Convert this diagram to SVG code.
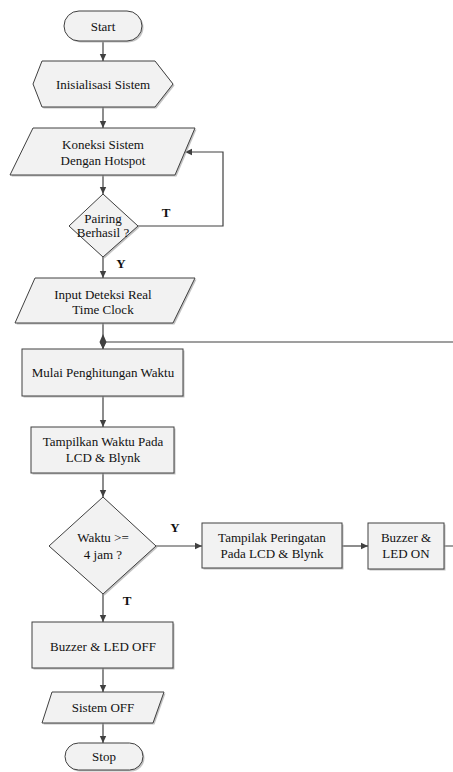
<svg xmlns="http://www.w3.org/2000/svg" width="453" height="772" viewBox="0 0 453 772">
<style>
.n{fill:#f2f2f2;stroke:#404040;stroke-width:1}
.sh{fill:#a8a8a8;stroke:none;opacity:0.7}
text{font-family:"Liberation Serif","DejaVu Serif",serif;font-size:13px;fill:#111;text-anchor:middle}
.b{font-weight:bold}
.c{fill:none;stroke:#404040;stroke-width:1.2}
</style>
<defs>
<marker id="ah" markerWidth="8" markerHeight="8" refX="7" refY="4" orient="auto" markerUnits="userSpaceOnUse">
<path d="M0,0.8 L7,4 L0,7.2 Z" fill="#404040"/>
</marker>
</defs>
<rect width="453" height="772" fill="#ffffff"/>
<g id="connectors" font-family="Liberation Serif, serif">
<path class="c" d="M103,42 V61" marker-end="url(#ah)"/>
<path class="c" d="M103,107 V128" marker-end="url(#ah)"/>
<path class="c" d="M103,175 V194" marker-end="url(#ah)"/>
<path class="c" d="M138,226 H223 V152 H185" marker-end="url(#ah)"/>
<path class="c" d="M103,257 V278" marker-end="url(#ah)"/>
<path class="c" d="M103,323 V342"/>
<path class="c" d="M444,546 H462 V342 H103"/>
<path class="c" d="M103,342 V349" marker-end="url(#ah)"/>
<polygon points="103,334 106.5,342 103,349 99.5,342" fill="#404040"/>
<path class="c" d="M103,396 V427" marker-end="url(#ah)"/>
<path class="c" d="M103,473 V497" marker-end="url(#ah)"/>
<path class="c" d="M156,546 H202" marker-end="url(#ah)"/>
<path class="c" d="M342,546 H368" marker-end="url(#ah)"/>
<path class="c" d="M103,594 V622" marker-end="url(#ah)"/>
<path class="c" d="M103,668 V692" marker-end="url(#ah)"/>
<path class="c" d="M103,723 V743" marker-end="url(#ah)"/>
<text class="b" x="166" y="217">T</text>
<text class="b" x="121" y="268">Y</text>
<text class="b" x="175" y="532">Y</text>
<text class="b" x="127" y="605">T</text>
</g>
<g id="start">
<rect class="sh" x="65.5" y="12.5" width="78" height="30" rx="15"/>
<rect class="n" x="64" y="11" width="78" height="30" rx="15"/>
<text x="103" y="30.5">Start</text>
</g>
<g id="init">
<polygon class="sh" points="34.5,85.5 43.5,62.5 156.5,62.5 174.5,85.5 156.5,108.5 43.5,108.5"/>
<polygon class="n" points="33,84 42,61 155,61 173,84 155,107 42,107"/>
<text x="103" y="88.5">Inisialisasi Sistem</text>
</g>
<g id="koneksi">
<polygon class="sh" points="34.5,129.5 196.5,129.5 176.5,176.5 11.5,176.5"/>
<polygon class="n" points="33,128 195,128 175,175 10,175"/>
<text x="103" y="149">Koneksi Sistem</text>
<text x="103" y="165">Dengan Hotspot</text>
</g>
<g id="pairing">
<polygon class="sh" points="104.5,195.5 139.5,227.5 104.5,258.5 70.5,227.5"/>
<polygon class="n" points="103,194 138,226 103,257 69,226"/>
<text x="103" y="223">Pairing</text>
<text x="103" y="237">Berhasil ?</text>
</g>
<g id="input">
<polygon class="sh" points="36.5,279.5 196.5,279.5 174.5,324.5 16.5,324.5"/>
<polygon class="n" points="35,278 195,278 173,323 15,323"/>
<text x="103" y="299">Input Deteksi Real</text>
<text x="103" y="314">Time Clock</text>
</g>
<g id="mulai">
<rect class="sh" x="23.5" y="350.5" width="161" height="47"/>
<rect class="n" x="22" y="349" width="161" height="47"/>
<text x="103" y="377">Mulai Penghitungan Waktu</text>
</g>
<g id="tampilkan">
<rect class="sh" x="32.5" y="428.5" width="143" height="46"/>
<rect class="n" x="31" y="427" width="143" height="46"/>
<text x="103" y="446">Tampilkan Waktu Pada</text>
<text x="103" y="462">LCD &amp; Blynk</text>
</g>
<g id="waktu">
<polygon class="sh" points="104.5,498.5 157.5,547.5 104.5,595.5 50.5,547.5"/>
<polygon class="n" points="103,497 156,546 103,594 49,546"/>
<text x="103" y="542">Waktu &gt;=</text>
<text x="103" y="559">4 jam ?</text>
</g>
<g id="peringatan">
<rect class="sh" x="203.5" y="524.5" width="140" height="45"/>
<rect class="n" x="202" y="523" width="140" height="45"/>
<text x="272" y="542">Tampilak Peringatan</text>
<text x="272" y="558">Pada LCD &amp; Blynk</text>
</g>
<g id="buzzeron">
<rect class="sh" x="369.5" y="524.5" width="76" height="46"/>
<rect class="n" x="368" y="523" width="76" height="46"/>
<text x="406" y="542">Buzzer &amp;</text>
<text x="406" y="558">LED ON</text>
</g>
<g id="buzzeroff">
<rect class="sh" x="33.5" y="623.5" width="141" height="46"/>
<rect class="n" x="32" y="622" width="141" height="46"/>
<text x="103" y="651">Buzzer &amp; LED OFF</text>
</g>
<g id="sistemoff">
<polygon class="sh" points="53.5,693.5 165.5,693.5 154.5,724.5 43.5,724.5"/>
<polygon class="n" points="52,692 164,692 153,723 42,723"/>
<text x="103" y="712">Sistem OFF</text>
</g>
<g id="stop">
<rect class="sh" x="66.5" y="744.5" width="78" height="27" rx="13.5"/>
<rect class="n" x="65" y="743" width="78" height="27" rx="13.5"/>
<text x="104" y="761">Stop</text>
</g>
</svg>
